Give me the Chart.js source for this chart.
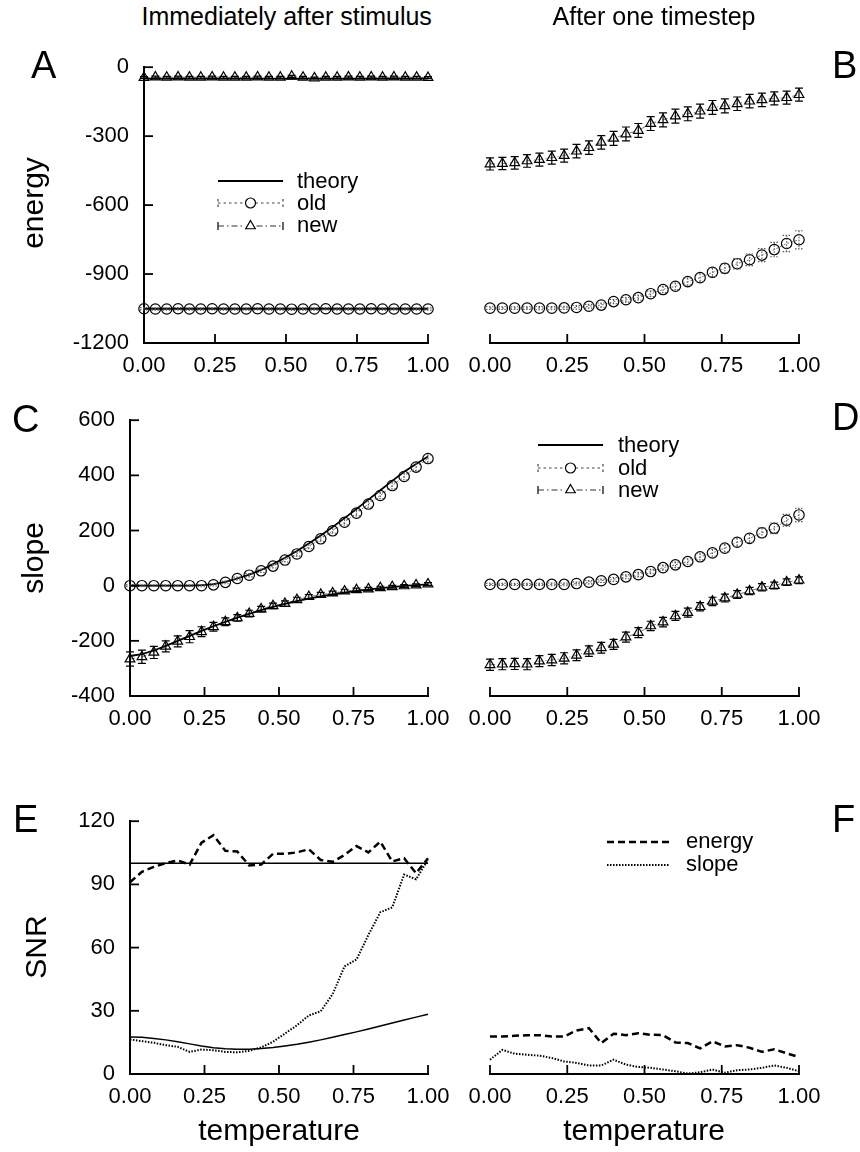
<!DOCTYPE html>
<html><head><meta charset="utf-8">
<script src="https://cdn.jsdelivr.net/npm/chart.js@4.4.1/dist/chart.umd.min.js"></script>
<style>
html,body{margin:0;padding:0;background:#fff;}
body{width:860px;height:1152px;position:relative;overflow:hidden;font-family:"Liberation Sans",Arial,sans-serif;color:#000;}
.box{position:absolute;}
.t{position:absolute;white-space:nowrap;line-height:1;font-family:"Liberation Sans",Arial,sans-serif;color:#000;}
</style></head><body>
<script>
// ---------- data ----------
const temperature = [0.00,0.04,0.08,0.12,0.16,0.20,0.24,0.28,0.32,0.36,0.40,0.44,0.48,0.52,0.56,0.60,0.64,0.68,0.72,0.76,0.80,0.84,0.88,0.92,0.96,1.00];
const tempTicks = [0,0.25,0.5,0.75,1];
const energyTicks = [-1200,-900,-600,-300,0];
const slopeTicks = [-400,-200,0,200,400,600];
const snrTicks = [0,30,60,90,120];

// Panel A: energy, immediately after stimulus
const energyTheoryOldA = [-1051,-1051,-1051,-1051,-1051,-1051,-1051,-1051,-1051,-1051,-1051,-1051,-1051,-1051,-1051,-1051,-1051,-1051,-1051,-1051,-1051,-1051,-1051,-1051,-1051,-1051];
const energyTheoryNewA = [-50,-50,-50,-50,-50,-50,-50,-50,-50,-50,-50,-50,-50,-50,-50,-50,-50,-50,-50,-50,-50,-50,-50,-50,-50,-50];
const energyOldA = [-1051,-1052,-1052,-1051,-1052,-1052,-1051,-1052,-1052,-1052,-1051,-1052,-1052,-1053,-1052,-1052,-1051,-1052,-1052,-1052,-1051,-1052,-1052,-1052,-1052,-1052];
const energyOldErrA = [5,5,5,5,5,5,5,5,5,5,5,5,5,5,5,5,5,5,5,5,5,5,5,5,5,5];
const energyNewA = [-45,-43,-44,-43,-44,-44,-43,-44,-44,-44,-43,-44,-44,-40,-44,-47,-44,-44,-43,-44,-43,-44,-43,-44,-44,-45];
const energyNewErrA = [4,4,4,4,4,4,4,4,4,4,4,4,4,4,4,4,4,4,4,4,4,4,4,4,4,4];

// Panel B: energy, after one timestep
const energyOldB = [-1050,-1050,-1050,-1050,-1050,-1050,-1049,-1047,-1042,-1037,-1022,-1014,-1005,-988,-970,-956,-936,-919,-896,-879,-859,-842,-822,-798,-772,-756];
const energyOldErrB = [6,6,6,6,7,7,7,8,8,9,9,10,11,12,13,14,15,17,18,20,22,25,28,31,35,39];
const energyNewB = [-430,-428,-425,-417,-411,-403,-394,-375,-360,-337,-320,-301,-286,-256,-240,-224,-214,-203,-187,-180,-171,-160,-154,-148,-145,-132];
const energyNewErrB = [26,26,27,27,28,28,28,29,29,29,30,30,30,30,30,30,30,30,30,30,29,29,29,28,28,28];

// Panel C: slope, immediately after stimulus
const slopeTheoryOldC = [0,0,0,0,0,0,2,6,14,26,40,57,78,101,126,153,182,213,245,278,312,346,380,413,441,468];
const slopeTheoryNewC = [-255,-248,-235,-218,-200,-182,-164,-147,-131,-116,-102,-89,-77,-66,-56,-47,-39,-32,-25,-19,-14,-9,-5,-1,2,5];
const slopeOldC = [0,0,0,0,0,0,0,3,12,26,38,54,71,93,115,142,170,199,230,263,296,327,363,396,430,461];
const slopeOldErrC = [3,3,3,3,3,3,4,4,5,5,6,6,7,7,8,8,9,9,10,10,11,11,12,12,13,13];
const slopeNewC = [-266,-258,-242,-220,-202,-185,-167,-149,-131,-117,-101,-85,-73,-65,-51,-40,-32,-27,-20,-15,-12,-8,-4,-1,2,6];
const slopeNewErrC = [26,24,22,20,20,22,18,16,14,12,12,10,10,10,9,8,8,7,7,6,6,6,5,5,5,5];

// Panel D: slope, after one timestep
const slopeOldD = [0,0,0,0,0,0,0,3,8,13,18,27,35,46,60,70,82,99,113,130,151,165,185,201,230,249];
const slopeOldErrD = [4,4,4,4,4,5,5,5,6,6,7,7,8,8,9,10,10,11,12,13,14,15,17,19,21,24];
const slopeNewD = [-288,-286,-285,-286,-275,-271,-265,-254,-239,-227,-215,-189,-173,-149,-135,-113,-101,-80,-61,-49,-36,-24,-10,-4,8,15];
const slopeNewErrD = [20,20,20,20,20,20,20,19,19,19,18,18,18,17,17,16,16,15,15,14,14,13,13,12,12,12];

// Panel E: SNR, immediately after stimulus
const snrTheoryEnergyE = [100,100,100,100,100,100,100,100,100,100,100,100,100,100,100,100,100,100,100,100,100,100,100,100,100,100];
const snrTheorySlopeE = [17.6,17.4,16.9,16.2,15.3,14.3,13.3,12.5,12.0,11.7,11.8,12.1,12.6,13.3,14.1,15.1,16.2,17.4,18.7,20.0,21.4,22.8,24.2,25.6,27.0,28.4];
const snrEnergyE = [91,96,98.3,100.1,101.4,99.4,109.8,113.4,106,105.6,99,99.4,104.5,104.5,105.2,106.7,101.6,100.7,104,108.2,105.2,110.3,100.9,102.4,95.3,102.4];
const snrSlopeE = [16.4,15.6,14.8,13.7,12.9,10.5,11.6,11.3,10.5,10.3,11,12.6,15.3,19.2,23.1,27.8,29.8,37.9,51.1,54.3,66,76.8,79.1,94.7,92.4,101.7];

// Panel F: SNR, after one timestep
const snrEnergyF = [17.6,17.6,17.9,18.2,18.2,17.6,17.6,20.4,21.5,14.5,18.9,18.2,19.1,18.4,18.2,14.8,14.5,12,15.3,12.9,13.5,12.3,10.4,11.6,9.7,7.9];
const snrSlopeF = [6.7,11.3,9.5,9.0,8.6,7.5,5.9,5.2,4.0,4.0,6.7,4.4,3.3,2.9,2.1,1.3,0.2,0.8,2.1,0.6,1.8,2.1,2.9,4.0,2.9,1.3];

// ---------- helpers ----------
const FAM = '"Liberation Sans", Arial, sans-serif';
function pts(arr){ return temperature.map((x,i)=>({x:x, y:arr[i]})); }

function txt(s, x, base, size, align){
  const d=document.createElement('div'); d.className='t'; d.textContent=s;
  d.style.fontSize=size+'px'; d.style.top=(base-0.8465*size)+'px'; d.style.left=x+'px';
  if(align==='center') d.style.transform='translateX(-50%)';
  document.body.appendChild(d);
}
function vtxt(s, bx, cy, size){
  const d=document.createElement('div'); d.className='t'; d.textContent=s;
  d.style.fontSize=size+'px'; d.style.left=(bx-0.3465*size)+'px'; d.style.top=cy+'px';
  d.style.transform='translate(-50%,-50%) rotate(-90deg)';
  document.body.appendChild(d);
}

const errPlugin = {
  id:'errbars',
  afterDatasetsDraw(chart){
    const ctx=chart.ctx, xs=chart.scales.x, ys=chart.scales.y;
    chart.data.datasets.forEach(ds=>{
      if(!ds.errors) return;
      ctx.save();
      ctx.strokeStyle=ds.errColor||'#000'; ctx.lineWidth=ds.errWidth||1.2;
      ctx.setLineDash(ds.errDash||[]);
      ds.data.forEach((p,i)=>{
        const e=ds.errors[i]; const x=xs.getPixelForValue(p.x);
        const y1=ys.getPixelForValue(p.y+e), y2=ys.getPixelForValue(p.y-e);
        ctx.beginPath();
        ctx.moveTo(x,y1); ctx.lineTo(x,y2);
        ctx.moveTo(x-4,y1); ctx.lineTo(x+4,y1);
        ctx.moveTo(x-4,y2); ctx.lineTo(x+4,y2);
        ctx.stroke();
      });
      ctx.restore();
    });
  }
};

const tickPlugin = {
  id:'inticks',
  afterDraw(chart){
    const ctx=chart.ctx, a=chart.chartArea;
    ctx.save(); ctx.strokeStyle='#000'; ctx.lineWidth=1.8; ctx.setLineDash([]);
    const xs=chart.scales.x;
    xs.ticks.forEach(t=>{ const px=xs.getPixelForValue(t.value); ctx.beginPath(); ctx.moveTo(px,a.bottom); ctx.lineTo(px,a.bottom-9); ctx.stroke(); });
    const ys=chart.scales.y;
    if(ys.options.display){
      ys.ticks.forEach(t=>{ const py=ys.getPixelForValue(t.value); ctx.beginPath(); ctx.moveTo(a.left,py); ctx.lineTo(a.left+9,py); ctx.stroke(); });
    }
    ctx.restore();
  }
};

function legendPlugin(items, offX, offY){
  return {
    id:'symleg',
    afterDraw(chart){
      const ctx=chart.ctx;
      items.forEach(it=>{
        const x1=it.x1-offX, x2=it.x2-offX, y=it.y-offY, xm=(x1+x2)/2;
        ctx.save(); ctx.strokeStyle='#000';
        if(it.kind==='solid'){
          ctx.lineWidth=1.8; ctx.beginPath(); ctx.moveTo(x1,y); ctx.lineTo(x2,y); ctx.stroke();
        } else if(it.kind==='dash'){
          ctx.lineWidth=2.5; ctx.setLineDash([7,4]); ctx.beginPath(); ctx.moveTo(x1,y); ctx.lineTo(x2,y); ctx.stroke();
        } else if(it.kind==='dot'){
          ctx.lineWidth=2; ctx.setLineDash([1.5,1.5]); ctx.beginPath(); ctx.moveTo(x1,y); ctx.lineTo(x2,y); ctx.stroke();
        } else if(it.kind==='old'){
          ctx.strokeStyle='#444'; ctx.lineWidth=1.2; ctx.setLineDash([2.5,3]);
          ctx.beginPath(); ctx.moveTo(x1,y); ctx.lineTo(xm-5,y); ctx.moveTo(xm+5,y); ctx.lineTo(x2,y);
          ctx.moveTo(x1,y-4); ctx.lineTo(x1,y+4); ctx.moveTo(x2,y-4); ctx.lineTo(x2,y+4); ctx.stroke();
          ctx.setLineDash([]); ctx.strokeStyle='#000';
          ctx.beginPath(); ctx.arc(xm,y,5,0,Math.PI*2); ctx.stroke();
        } else if(it.kind==='new'){
          ctx.lineWidth=1.2; ctx.setLineDash([]);
          ctx.beginPath(); ctx.moveTo(x1,y-4); ctx.lineTo(x1,y+4); ctx.moveTo(x2,y-4); ctx.lineTo(x2,y+4); ctx.stroke();
          ctx.strokeStyle='#333'; ctx.setLineDash([6,3,1.5,3]);
          ctx.beginPath(); ctx.moveTo(x1,y); ctx.lineTo(xm-6,y); ctx.moveTo(xm+6,y); ctx.lineTo(x2,y); ctx.stroke();
          ctx.setLineDash([]); ctx.strokeStyle='#000';
          const r=5.5; ctx.beginPath(); ctx.moveTo(xm,y-r); ctx.lineTo(xm+0.866*r,y+0.5*r); ctx.lineTo(xm-0.866*r,y+0.5*r); ctx.closePath(); ctx.stroke();
        }
        ctx.restore();
      });
    }
  };
}

function theoryDS(arr, w){ return {data:pts(arr), borderColor:'#000', borderWidth:w||1.8, pointRadius:0, fill:false, clip:false}; }
function oldDS(arr, err){ return {data:pts(arr), errors:err, errColor:'#555', errDash:[1.5,1.5], errWidth:1.1,
  borderColor:'#777', borderWidth:1, borderDash:[2,2], pointStyle:'circle', pointRadius:5.2,
  pointBorderColor:'#000', pointBorderWidth:1.2, pointBackgroundColor:'rgba(0,0,0,0)', fill:false, clip:false}; }
function newDS(arr, err){ return {data:pts(arr), errors:err, errColor:'#000', errWidth:1.2,
  borderColor:'#777', borderWidth:1, borderDash:[5,3,1,3], pointStyle:'triangle', pointRadius:5.6,
  pointBorderColor:'#000', pointBorderWidth:1.2, pointBackgroundColor:'rgba(0,0,0,0)', fill:false, clip:false}; }

function panel(cfg){
  const {l,t,r,b,hasY} = cfg;
  const Wy = hasY?100:0, padL = hasY?0:35, padT=25, padR=35, Hx=50;
  const left=l-Wy-padL, top=t-padT, w=r+padR-left, h=b+Hx-top;
  const div=document.createElement('div'); div.className='box';
  div.style.left=left+'px'; div.style.top=top+'px'; div.style.width=w+'px'; div.style.height=h+'px';
  const cv=document.createElement('canvas'); cv.width=w; cv.height=h; cv.style.width=w+'px'; cv.style.height=h+'px';
  div.appendChild(cv); document.body.appendChild(div);
  const font={family:FAM, size:22};
  new Chart(cv, {
    type:'line',
    data:{datasets:cfg.datasets},
    options:{
      responsive:false, animation:false, devicePixelRatio:1,
      layout:{padding:{left:padL, top:padT, right:padR, bottom:0}},
      plugins:{legend:{display:false}, tooltip:{enabled:false}},
      elements:{line:{tension:0}},
      scales:{
        x:{type:'linear', min:0, max:1,
          afterFit:s=>{s.height=Hx;},
          afterBuildTicks:s=>{s.ticks=tempTicks.map(v=>({value:v}));},
          ticks:{callback:v=>Number(v).toFixed(2), font:font, color:'#000', padding:10, maxRotation:0, autoSkip:false},
          grid:{display:false, drawTicks:false, tickLength:0},
          border:{display:true, color:'#000', width:2}},
        y:{type:'linear', display:hasY, min:cfg.ymin, max:cfg.ymax,
          afterFit:s=>{s.width=Wy;},
          afterBuildTicks:s=>{s.ticks=cfg.yticks.map(v=>({value:v}));},
          ticks:{callback:v=>String(v), font:font, color:'#000', padding:15, autoSkip:false},
          grid:{display:false, drawTicks:false, tickLength:0},
          border:{display:true, color:'#000', width:2}}
      }
    },
    plugins:[errPlugin, tickPlugin, legendPlugin(cfg.legend||[], left, top)]
  });
}

// ---------- panels ----------
panel({l:144,t:64,r:428,b:343,hasY:true,ymin:-1200,ymax:0,yticks:energyTicks,
  datasets:[theoryDS(energyTheoryOldA), theoryDS(energyTheoryNewA), oldDS(energyOldA,energyOldErrA), newDS(energyNewA,energyNewErrA)],
  legend:[{kind:'solid',x1:218,x2:283,y:181},{kind:'old',x1:218,x2:283,y:203},{kind:'new',x1:218,x2:283,y:226}]});
panel({l:490,t:64,r:799,b:343,hasY:false,ymin:-1200,ymax:0,yticks:energyTicks,
  datasets:[oldDS(energyOldB,energyOldErrB), newDS(energyNewB,energyNewErrB)]});
panel({l:130,t:417,r:428,b:696,hasY:true,ymin:-400,ymax:600,yticks:slopeTicks,
  datasets:[theoryDS(slopeTheoryOldC), theoryDS(slopeTheoryNewC), oldDS(slopeOldC,slopeOldErrC), newDS(slopeNewC,slopeNewErrC)]});
panel({l:490,t:417,r:799,b:696,hasY:false,ymin:-400,ymax:600,yticks:slopeTicks,
  datasets:[oldDS(slopeOldD,slopeOldErrD), newDS(slopeNewD,slopeNewErrD)],
  legend:[{kind:'solid',x1:538,x2:603,y:445},{kind:'old',x1:538,x2:603,y:468},{kind:'new',x1:538,x2:603,y:490}]});
panel({l:130,t:818,r:428,b:1074,hasY:true,ymin:0,ymax:120,yticks:snrTicks,
  datasets:[theoryDS(snrTheoryEnergyE,1.5), theoryDS(snrTheorySlopeE,1.5),
    {data:pts(snrEnergyE), borderColor:'#000', borderWidth:2.5, borderDash:[7,4], pointRadius:0, fill:false, clip:false},
    {data:pts(snrSlopeE), borderColor:'#000', borderWidth:2, borderDash:[1.5,1.5], pointRadius:0, fill:false, clip:false}]});
panel({l:490,t:818,r:799,b:1074,hasY:false,ymin:0,ymax:120,yticks:snrTicks,
  datasets:[
    {data:pts(snrEnergyF), borderColor:'#000', borderWidth:2.5, borderDash:[7,4], pointRadius:0, fill:false, clip:false},
    {data:pts(snrSlopeF), borderColor:'#000', borderWidth:2, borderDash:[1.5,1.5], pointRadius:0, fill:false, clip:false}],
  legend:[{kind:'dash',x1:607,x2:670,y:842},{kind:'dot',x1:607,x2:670,y:865}]});

// ---------- text ----------
txt('Immediately after stimulus', 286.7, 25, 25, 'center');
txt('After one timestep', 654, 25, 25, 'center');
txt('A', 31, 78, 38); txt('B', 832, 78, 38);
txt('C', 12, 432, 38); txt('D', 832, 430, 38);
txt('E', 13, 832, 38); txt('F', 832, 832, 38);
vtxt('energy', 43, 203, 30);
vtxt('slope', 43, 558, 30);
vtxt('SNR', 46, 947, 30);
txt('temperature', 279, 1140, 30, 'center');
txt('temperature', 644, 1140, 30, 'center');
txt('theory', 297, 188.5, 22); txt('old', 297, 211, 22); txt('new', 297, 233, 22);
txt('theory', 618, 453, 22); txt('old', 618, 476, 22); txt('new', 618, 497.5, 22);
txt('energy', 686, 848.5, 22); txt('slope', 686, 871.5, 22);
</script>
</body></html>
